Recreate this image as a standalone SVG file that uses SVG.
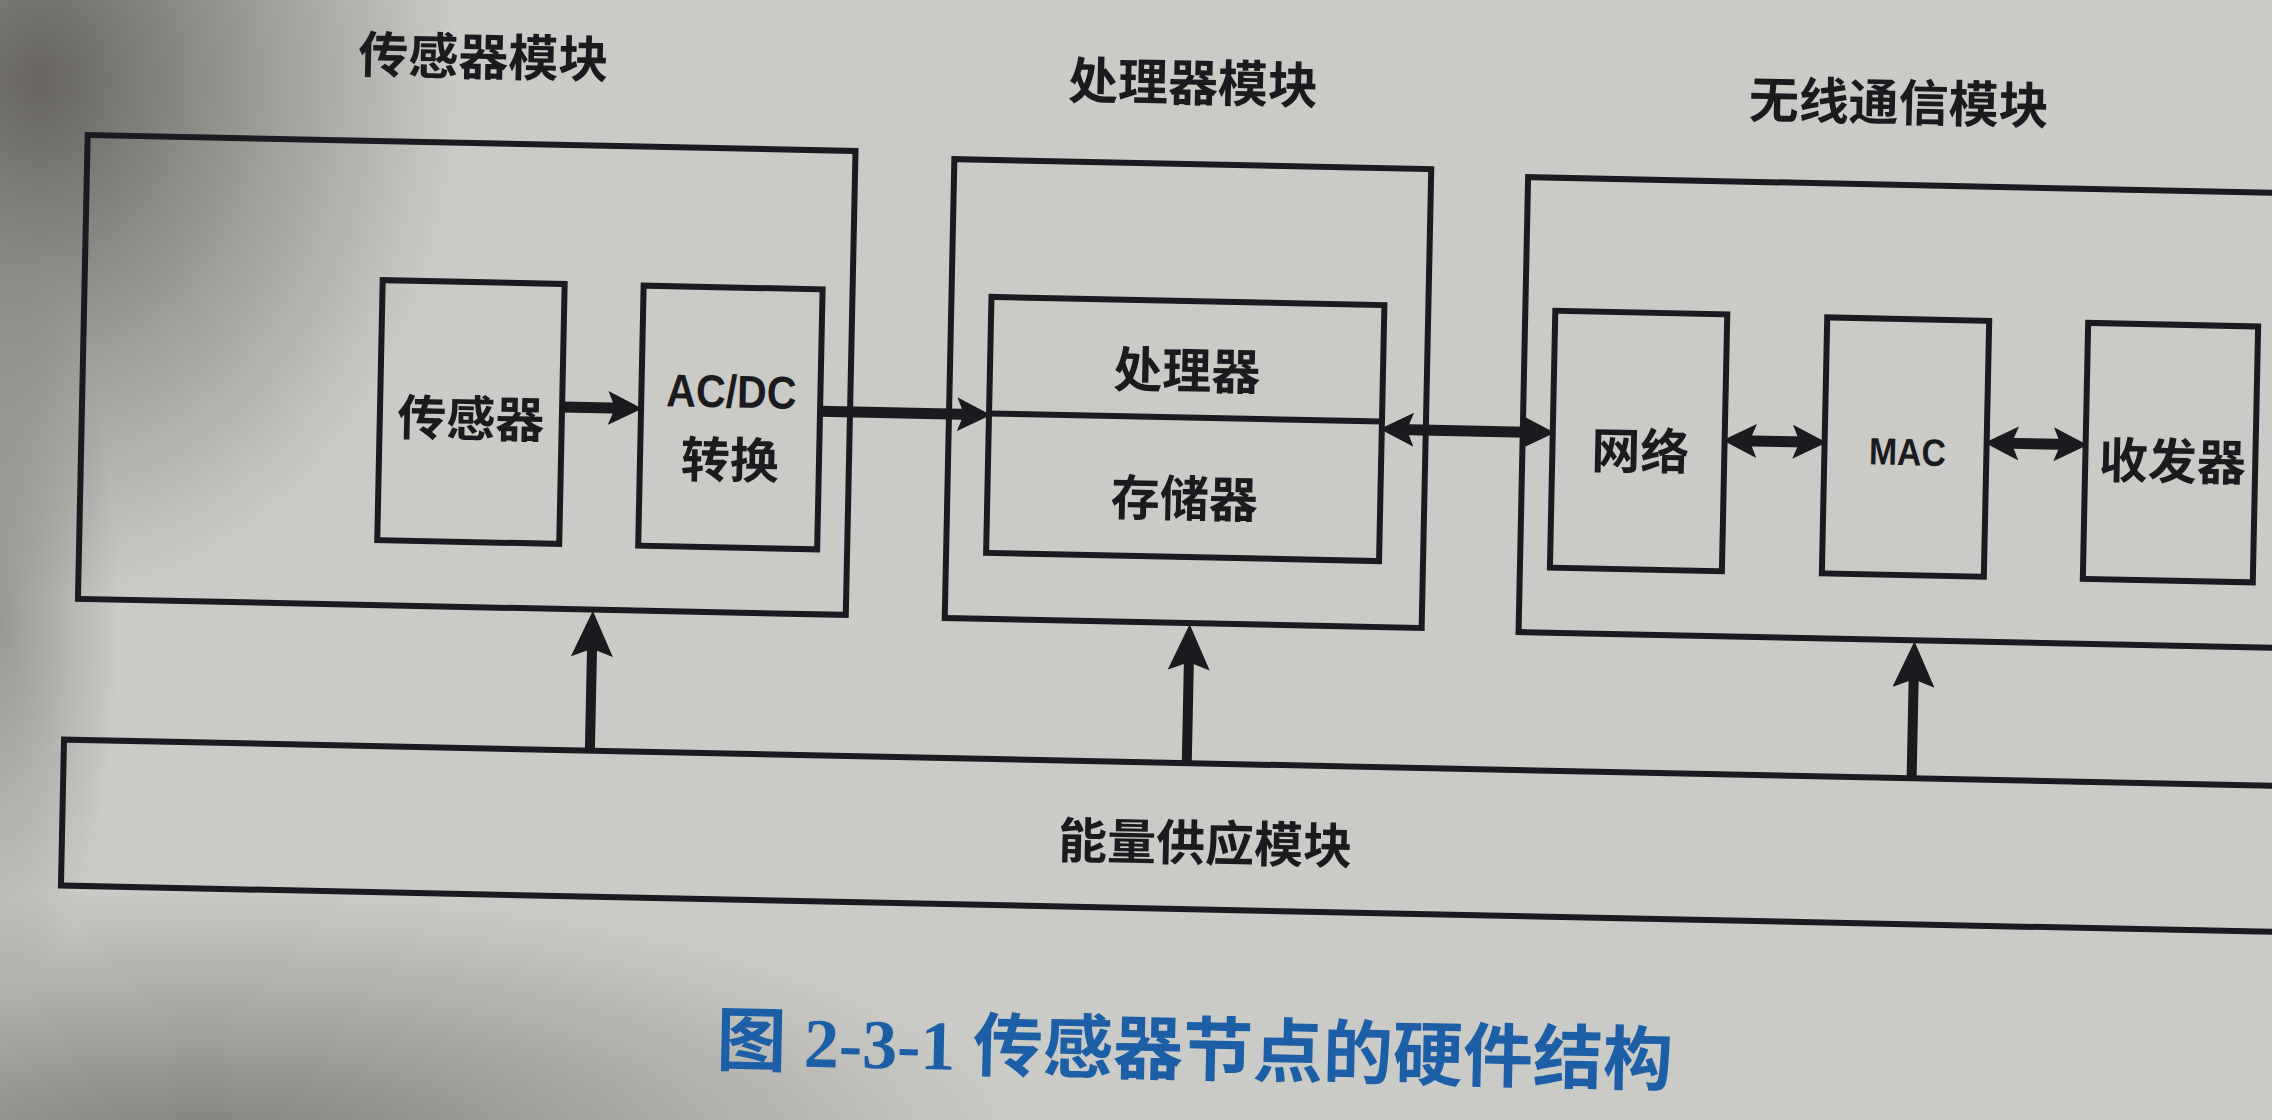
<svg xmlns="http://www.w3.org/2000/svg" width="2272" height="1120" viewBox="0 0 2272 1120">
<defs>
<style>
.box{fill:none;stroke:#1b1a20;stroke-width:6}
.t{font-family:"Noto Sans CJK SC","Noto Sans",sans-serif;font-weight:bold;fill:#1b1a1e;text-anchor:middle;dominant-baseline:central}
.title{font-size:50px}
.lbl{font-size:49px}
.lat{font-family:"Liberation Sans","Noto Sans CJK SC",sans-serif}
.cap{font-family:"Liberation Serif","Noto Sans CJK SC",serif;font-weight:bold;font-size:70px;fill:#1d5fa6;text-anchor:middle;dominant-baseline:central}
.con{stroke:#1b1a1e;fill:none}
.h{stroke-width:11}
.v{stroke-width:10}
</style>
<marker id="ah" viewBox="0 0 34 34" refX="16" refY="17" markerWidth="34" markerHeight="34" markerUnits="userSpaceOnUse" orient="auto-start-reverse"><path d="M0,0 L34,17 L0,34 L7,17 z" fill="#1b1a1e"/></marker>
<marker id="au" viewBox="0 0 46 42" refX="22" refY="21" markerWidth="46" markerHeight="42" markerUnits="userSpaceOnUse" orient="auto"><path d="M0,0 L46,21 L0,42 L8,21 z" fill="#1b1a1e"/></marker>
<radialGradient id="sh"><stop offset="0" stop-color="#4e4b46" stop-opacity="0.8"/><stop offset="0.55" stop-color="#4e4b46" stop-opacity="0.35"/><stop offset="1" stop-color="#4e4b46" stop-opacity="0"/></radialGradient>
</defs>
<rect x="0" y="0" width="2272" height="1120" fill="#cacac6"/>
<ellipse cx="40" cy="80" rx="420" ry="520" fill="url(#sh)"/>
<ellipse cx="200" cy="1150" rx="820" ry="260" fill="url(#sh)" opacity="0.75"/>
<ellipse cx="0" cy="620" rx="120" ry="380" fill="url(#sh)" opacity="0.5"/>
<g transform="rotate(1.2 1136 560)">
<g id="sensor-module">
<rect class="box" x="79" y="157" width="768" height="464"/>
<text class="t title" x="473" y="67">传感器模块</text>
</g>
<g id="sensor">
<rect class="box" x="377" y="296" width="182" height="260"/>
<text class="t lbl" x="468" y="429">传感器</text>
</g>
<g id="acdc">
<rect class="box" x="638" y="296" width="179" height="260"/>
<text class="t lat" x="728" y="400" font-size="46" textLength="130" lengthAdjust="spacingAndGlyphs">AC/DC</text>
<text class="t lbl" x="728" y="465">转换</text>
</g>
<g id="processor-module">
<rect class="box" x="946" y="163" width="477" height="459"/>
<text class="t title" x="1183" y="78">处理器模块</text>
</g>
<g id="processor-memory">
<rect class="box" x="986" y="300" width="393" height="256"/>
<line class="box" x1="986" y1="416.5" x2="1379" y2="416.5"/>
<text class="t lbl" x="1183" y="366">处理器</text>
<text class="t lbl" x="1183" y="494">存储器</text>
</g>
<g id="wireless-module">
<rect class="box" x="1520" y="169" width="780" height="455"/>
<text class="t title" x="1889" y="83">无线通信模块</text>
</g>
<g id="network">
<rect class="box" x="1550" y="302" width="172" height="257"/>
<text class="t lbl" x="1638" y="437">网络</text>
</g>
<g id="mac">
<rect class="box" x="1822" y="303" width="162" height="256"/>
<text class="t lat" x="1905" y="436" font-size="38" textLength="77" lengthAdjust="spacingAndGlyphs">MAC</text>
</g>
<g id="transceiver">
<rect class="box" x="2083" y="303" width="170" height="256"/>
<text class="t lbl" x="2170" y="436">收发器</text>
</g>
<g id="power-module">
<rect class="box" x="68" y="762" width="2232" height="146"/>
<text class="t lbl" x="1211" y="838">能量供应模块</text>
</g>
<g id="connectors">
<line class="con h" x1="559" y1="419" x2="621" y2="419" marker-end="url(#ah)"/>
<line class="con h" x1="817" y1="418" x2="970" y2="418" marker-end="url(#ah)"/>
<line class="con h" x1="1395" y1="424" x2="1534" y2="424" marker-start="url(#ah)" marker-end="url(#ah)"/>
<line class="con h" x1="1738" y1="428" x2="1806" y2="428" marker-start="url(#ah)" marker-end="url(#ah)"/>
<line class="con h" x1="2000" y1="425" x2="2067" y2="425" marker-start="url(#ah)" marker-end="url(#ah)"/>
<line class="con v" x1="594" y1="762" x2="594" y2="646" marker-end="url(#au)"/>
<line class="con v" x1="1191" y1="762" x2="1191" y2="647" marker-end="url(#au)"/>
<line class="con v" x1="1916" y1="762" x2="1916" y2="649" marker-end="url(#au)"/>
</g>
<text class="cap" x="1205" y="1050">图 2-3-1 传感器节点的硬件结构</text>
</g>
</svg>
